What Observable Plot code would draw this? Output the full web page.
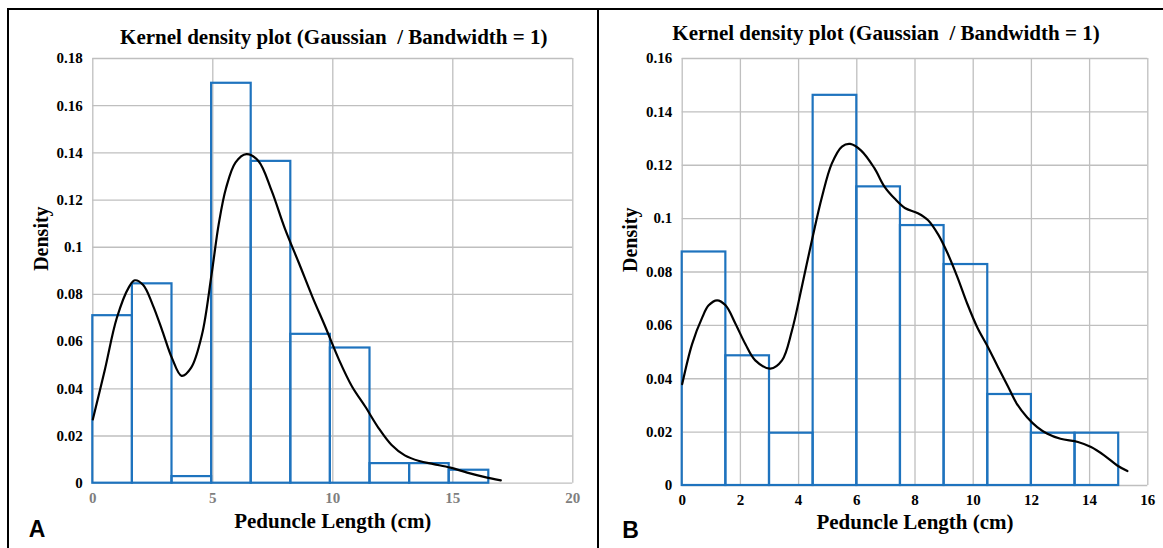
<!DOCTYPE html>
<html><head><meta charset="utf-8">
<script src="https://cdn.jsdelivr.net/npm/d3@7"></script>
<script src="https://cdn.jsdelivr.net/npm/@observablehq/plot@0.6"></script>
<style>
html,body{margin:0;padding:0;background:#fff;width:1163px;height:548px;overflow:hidden;}
#frameTop{position:absolute;left:7px;top:8px;width:1156px;height:0;border-top:2px solid #000;}
#frameLeft{position:absolute;left:7px;top:8px;width:0;height:540px;border-left:2px solid #000;}
#divider{position:absolute;left:596px;top:8px;width:0;height:540px;border-left:3px solid #000;}
#panelA{position:absolute;left:10px;top:10px;}
#panelB{position:absolute;left:600px;top:10px;}
</style></head><body>
<div id="frameTop"></div><div id="frameLeft"></div><div id="divider"></div>
<div id="panelA"></div><div id="panelB"></div>
<script>
// ---- Texts ----
const titleText = "Kernel density plot (Gaussian  / Bandwidth = 1)";
const xLabelText = "Peduncle Length (cm)";
const yLabelText = "Density";

// ---- Panel A ----
const binEdgesA = [0, 1.65, 3.3, 4.95, 6.6, 8.25, 9.9, 11.55, 13.2, 14.85, 16.5];
const densityA = [0.071, 0.0845, 0.0028, 0.1695, 0.1364, 0.0631, 0.0573, 0.0083, 0.0083, 0.0055];
const kdeXA = [0, 0.5, 1.0, 1.5, 1.75, 2.1, 2.5, 2.9, 3.3, 3.7, 4.1, 4.55, 4.95, 5.25, 5.55, 5.95, 6.4, 6.9, 7.45, 8.0, 8.6, 9.15, 9.7, 10.25, 10.8, 11.35, 11.9, 12.45, 13.0, 13.6, 14.2, 14.9, 15.6, 16.3, 17.0];
const kdeYA = [0.027, 0.048, 0.070, 0.083, 0.086, 0.084, 0.0755, 0.0645, 0.053, 0.0455, 0.049, 0.063, 0.0886, 0.110, 0.125, 0.136, 0.1395, 0.1366, 0.124, 0.108, 0.093, 0.079, 0.066, 0.0525, 0.041, 0.0325, 0.0235, 0.0162, 0.0118, 0.0094, 0.0081, 0.0066, 0.0045, 0.0027, 0.0012];
const xTicksA = [0, 5, 10, 15, 20];
const yTicksA = [0, 0.02, 0.04, 0.06, 0.08, 0.1, 0.12, 0.14, 0.16, 0.18];

// ---- Panel B ----
const binEdgesB = [0, 1.5, 3, 4.5, 6, 7.5, 9, 10.5, 12, 13.5, 15];
const densityB = [0.0875, 0.0486, 0.0196, 0.1462, 0.1119, 0.0974, 0.0828, 0.0341, 0.0196, 0.0196];
const kdeXB = [0, 0.34, 0.69, 0.91, 1.2, 1.49, 1.83, 2.17, 2.51, 3.03, 3.43, 3.77, 4.11, 4.46, 4.8, 5.14, 5.49, 5.77, 6.15, 6.6, 6.95, 7.3, 7.65, 8.1, 8.45, 8.8, 9.12, 9.46, 9.8, 10.15, 10.5, 10.85, 11.2, 11.5, 11.85, 12.2, 12.55, 13.0, 13.6, 14.05, 14.5, 14.95, 15.3];
const kdeYB = [0.038, 0.053, 0.063, 0.0675, 0.0694, 0.0675, 0.0606, 0.053, 0.0469, 0.0438, 0.0469, 0.058, 0.0744, 0.092, 0.108, 0.1206, 0.127, 0.128, 0.1255, 0.119, 0.112, 0.1075, 0.104, 0.102, 0.0994, 0.094, 0.087, 0.078, 0.068, 0.059, 0.052, 0.0444, 0.037, 0.0306, 0.0256, 0.0219, 0.0194, 0.0175, 0.0163, 0.0144, 0.0113, 0.0075, 0.0054];
const xTicksB = [0, 2, 4, 6, 8, 10, 12, 14, 16];
const yTicksB = [0, 0.02, 0.04, 0.06, 0.08, 0.1, 0.12, 0.14, 0.16];

const gridColor = "#bfbfbf";
const barColor = "#1e73be";
const serif = "'Liberation Serif', 'Times New Roman', serif";
const sans = "'Liberation Sans', Arial, sans-serif";
const tickFont = "15px";
const fmt = d => d === 0 ? "0" : String(+d.toFixed(2));

function makePanel(c) {
  const bars = c.edges.slice(0, -1).map((e, i) => ({x1: e, x2: c.edges[i + 1], y: c.dens[i]}));
  const curve = c.kx.map((x, i) => ({x, y: c.ky[i]}));
  const svg = Plot.plot({
    width: c.width, height: c.height,
    marginLeft: c.ml, marginRight: c.mr, marginTop: c.mt, marginBottom: c.mb,
    style: {fontFamily: serif, fontSize: tickFont, fontWeight: "bold", color: "#000", background: "#fff", overflow: "visible"},
    x: {domain: [0, c.xTicks[c.xTicks.length - 1]], ticks: c.xTicks, tickSize: 0, tickPadding: 9, label: null, tickFormat: fmt},
    y: {domain: [0, c.yTicks[c.yTicks.length - 1]], ticks: c.yTicks, tickSize: 0, tickPadding: 10, label: null, tickFormat: fmt},
    marks: [
      Plot.ruleX(c.xTicks, {stroke: gridColor, strokeWidth: 1.3}),
      Plot.ruleY(c.yTicks, {stroke: gridColor, strokeWidth: 1.3}),
      Plot.rect(bars, {x1: "x1", x2: "x2", y1: 0, y2: "y", fill: "none", stroke: barColor, strokeWidth: 2.2}),
      Plot.line(curve, {x: "x", y: "y", curve: "catmull-rom", stroke: "#000", strokeWidth: 2.2}),
      Plot.text([titleText], {text: d => d, frameAnchor: "top", dx: c.titleDx, dy: c.titleDy, fontSize: 21, fontWeight: "bold", fontFamily: serif}),
      Plot.text([xLabelText], {text: d => d, frameAnchor: "bottom", dy: c.xLabelDy, fontSize: 21, fontWeight: "bold", fontFamily: serif}),
      Plot.text([yLabelText], {text: d => d, frameAnchor: "left", dx: c.yLabelDx, rotate: -90, fontSize: 20, fontWeight: "bold", fontFamily: serif}),
      Plot.text([c.letter], {text: d => d, frameAnchor: "bottom-left", dx: c.letterDx, dy: c.letterDy, fontSize: 23, fontWeight: "bold", fontFamily: sans})
    ]
  });
  svg.querySelectorAll('g[aria-label^="x-axis"], g[aria-label^="y-axis"]').forEach(g => {
    g.setAttribute("font-size", tickFont);
    g.style.fontSize = tickFont;
    g.style.fontWeight = "bold";
    g.style.fontFamily = serif;
    g.querySelectorAll("text").forEach(t => { t.setAttribute("font-size", tickFont); t.style.fontSize = tickFont; });
  });
  if (c.xTickColor) {
    svg.querySelectorAll('g[aria-label^="x-axis"]').forEach(g => {
      g.style.fill = c.xTickColor;
      g.querySelectorAll("text").forEach(t => t.style.fill = c.xTickColor);
    });
  }
  return svg;
}

document.getElementById("panelA").appendChild(makePanel({
  edges: binEdgesA, dens: densityA, kx: kdeXA, ky: kdeYA, xTicks: xTicksA, yTicks: yTicksA,
  width: 587, height: 538, ml: 82.3, mr: 24.7, mt: 48, mb: 65.3,
  titleDx: 1, titleDy: -29, xLabelDy: 45, yLabelDx: -51, letter: "A", letterDx: -64, letterDy: 54,
  xTickColor: "#7f7f7f"
}));
document.getElementById("panelB").appendChild(makePanel({
  edges: binEdgesB, dens: densityB, kx: kdeXB, ky: kdeYB, xTicks: xTicksB, yTicks: yTicksB,
  width: 563, height: 538, ml: 81.7, mr: 15.7, mt: 48, mb: 63,
  titleDx: -29, titleDy: -33, xLabelDy: 43, yLabelDx: -52, letter: "B", letterDx: -60, letterDy: 52
}));
</script>
</body></html>
